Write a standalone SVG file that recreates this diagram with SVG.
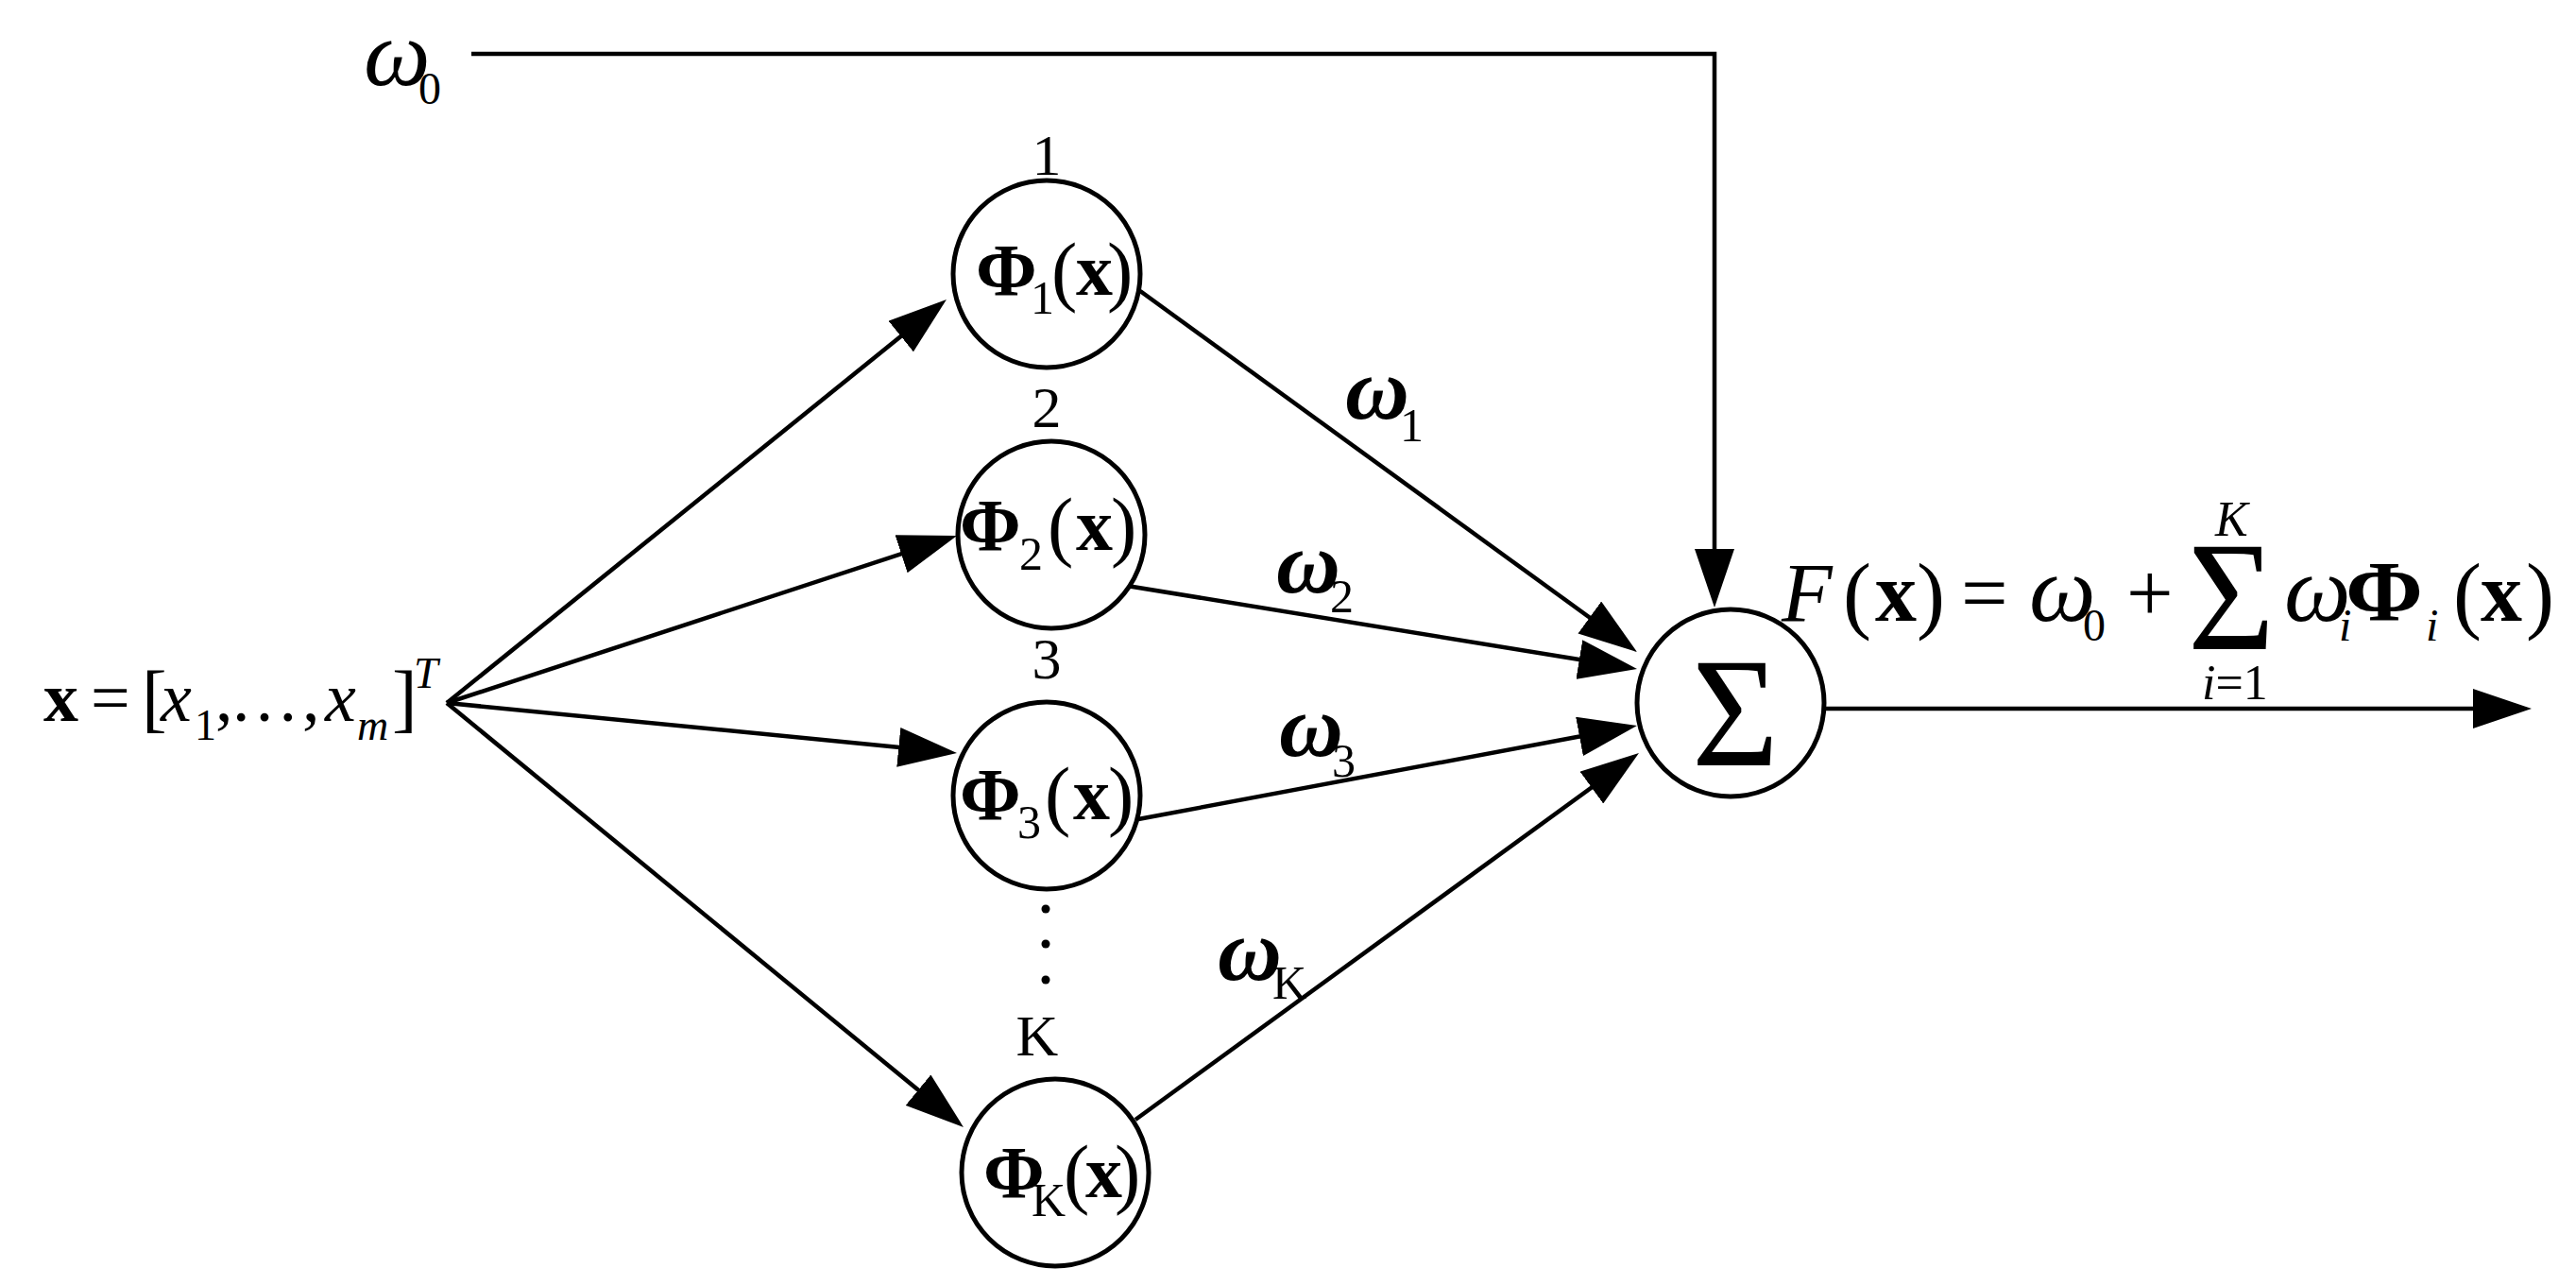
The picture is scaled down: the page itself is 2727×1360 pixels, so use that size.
<svg xmlns="http://www.w3.org/2000/svg" width="2727" height="1360" viewBox="0 0 2727 1360">
<style>
text{font-family:"Liberation Serif","Times New Roman",serif;fill:#000}
.it{font-style:italic}
.b{font-weight:bold}
.node{fill:#fff;stroke:#000;stroke-width:5}
.conn{fill:none;stroke:#000;stroke-width:4.5;marker-end:url(#arr)}
.phi{font-size:78px;font-weight:bold}
.sub{font-size:50px}
.par{font-size:82px}
.bx{font-size:78px;font-weight:bold}
.num{font-size:62px;text-anchor:middle}
.w{font-size:94px;font-weight:bold;font-style:italic}
.f{font-size:88px}
.om{font-size:100px;font-style:italic}
</style>
<defs>
<marker id="arr" markerUnits="userSpaceOnUse" markerWidth="62" markerHeight="42" refX="42" refY="21" orient="auto">
<path d="M0,0 L62,21 L0,42 Z" fill="#000"/>
</marker>
</defs>
<rect width="2727" height="1360" fill="#fff"/>

<g id="connectors">
<path class="conn" d="M499,57 H1815 V623"/>
<path class="conn" d="M473,744 L986.4,329.6"/>
<path class="conn" d="M473,744 L994,573.2"/>
<path class="conn" d="M473,744 L993.1,795"/>
<path class="conn" d="M473,744 L1004.5,1180.3"/>
<path class="conn" d="M1207,308 L1716.8,678.2"/>
<path class="conn" d="M1193,620 L1713.3,704.8"/>
<path class="conn" d="M1205,867 L1713.3,771.7"/>
<path class="conn" d="M1202,1185 L1718.8,808.8"/>
<path class="conn" d="M1932,750 H2660"/>
</g>

<g id="input">
<text x="46" y="763" class="b" font-size="74">x</text>
<text x="96" y="763" font-size="74">=</text>
<text x="150" y="765" font-size="80">[</text>
<text x="170" y="763" class="it" font-size="74">x</text>
<text x="206" y="783" font-size="46">1</text>
<text x="228" y="763" font-size="74">,</text>
<text x="243" y="763" font-size="74">…</text>
<text x="320" y="763" font-size="74">,</text>
<text x="344" y="763" class="it" font-size="74">x</text>
<text x="378" y="783" class="it" font-size="46">m</text>
<text x="415" y="765" font-size="80">]</text>
<text x="438" y="728" class="it" font-size="46">T</text>
</g>

<g id="bias">
<text x="385" y="90" class="om">ω</text>
<text x="443" y="110" font-size="48">0</text>
</g>

<g id="node1">
<circle class="node" cx="1108" cy="290" r="99"/>
<text x="1108" y="185" class="num">1</text>
<text x="1033" y="312" class="phi">Φ</text>
<text x="1091" y="332" class="sub">1</text>
<text x="1113" y="314" class="par">(</text>
<text x="1139" y="312" class="bx">x</text>
<text x="1172" y="314" class="par">)</text>
</g>

<g id="node2">
<circle class="node" cx="1113" cy="566" r="99"/>
<text x="1108" y="452" class="num">2</text>
<text x="1016" y="582" class="phi">Φ</text>
<text x="1079" y="603" class="sub">2</text>
<text x="1109" y="584" class="par">(</text>
<text x="1139" y="582" class="bx">x</text>
<text x="1176" y="584" class="par">)</text>
</g>

<g id="node3">
<circle class="node" cx="1108" cy="842" r="99"/>
<text x="1108" y="718" class="num">3</text>
<text x="1016" y="867" class="phi">Φ</text>
<text x="1077" y="887" class="sub">3</text>
<text x="1106" y="869" class="par">(</text>
<text x="1136" y="867" class="bx">x</text>
<text x="1173" y="869" class="par">)</text>
</g>

<g id="dots">
<circle cx="1107" cy="962" r="4.5"/>
<circle cx="1107" cy="999" r="4.5"/>
<circle cx="1107" cy="1037" r="4.5"/>
</g>

<g id="nodeK">
<circle class="node" cx="1117" cy="1241" r="99"/>
<text x="1098" y="1117" class="num" font-size="64">K</text>
<text x="1041" y="1267" class="phi">Φ</text>
<text x="1092" y="1287" class="sub">K</text>
<text x="1126" y="1269" class="par">(</text>
<text x="1149" y="1267" class="bx">x</text>
<text x="1180" y="1269" class="par">)</text>
</g>

<g id="weights">
<text x="1424" y="443" class="w">ω</text>
<text x="1482" y="467" class="sub">1</text>
<text x="1351" y="627" class="w">ω</text>
<text x="1408" y="648" class="sub">2</text>
<text x="1354" y="800" class="w">ω</text>
<text x="1410" y="822" class="sub">3</text>
<text x="1289" y="1037" class="w">ω</text>
<text x="1347" y="1057" class="sub">K</text>
</g>

<g id="sum">
<circle class="node" cx="1832" cy="744" r="99"/>
<text x="1791" y="810" font-size="166" textLength="92" lengthAdjust="spacingAndGlyphs">Σ</text>
</g>

<g id="formula">
<text x="1886" y="657" class="it f">F</text>
<text x="1951" y="659" font-size="90">(</text>
<text x="1985" y="657" class="b f">x</text>
<text x="2029" y="659" font-size="90">)</text>
<text x="2076" y="657" class="f">=</text>
<text x="2148" y="657" class="om">ω</text>
<text x="2205" y="678" font-size="48">0</text>
<text x="2251" y="657" class="f">+</text>
<text x="2345" y="567" class="it" font-size="52">K</text>
<text x="2316" y="687" font-size="166" textLength="92" lengthAdjust="spacingAndGlyphs">Σ</text>
<text x="2331" y="740" font-size="52"><tspan class="it">i</tspan>=1</text>
<text x="2418" y="657" class="om">ω</text>
<text x="2476" y="678" class="it" font-size="48">i</text>
<text x="2483" y="657" class="b" font-size="90" textLength="82" lengthAdjust="spacingAndGlyphs">Φ</text>
<text x="2568" y="678" class="it" font-size="48">i</text>
<text x="2597" y="659" font-size="90">(</text>
<text x="2626" y="657" class="b f">x</text>
<text x="2674" y="659" font-size="90">)</text>
</g>
</svg>
